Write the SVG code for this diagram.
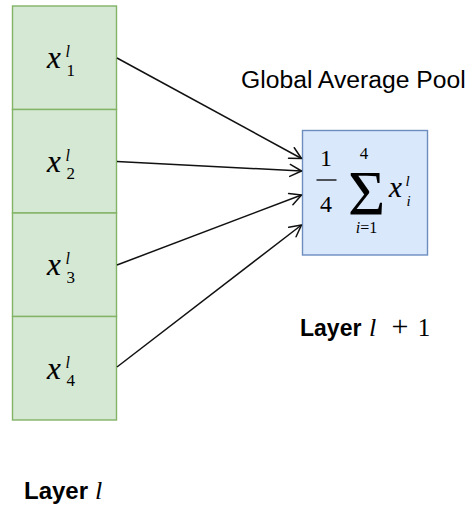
<svg xmlns="http://www.w3.org/2000/svg" width="472" height="513" viewBox="0 0 472 513">
  <style>
    .cell { fill: #d5e8d4; stroke: #82b366; stroke-width: 1.4; }
    .pool { fill: #dae8fc; stroke: #6c8ebf; stroke-width: 1.4; }
    .edge { fill: none; stroke: #111; stroke-width: 1.5; marker-end: url(#open); }
    .mi { font-family: "Liberation Serif", "Times New Roman", serif; font-style: italic; fill: #000; }
    .mn { font-family: "Liberation Serif", "Times New Roman", serif; fill: #000; }
    .var { stroke: #000; stroke-width: 0.2; }
    .lbl { font-family: "Liberation Sans", Arial, sans-serif; fill: #000; }
    .bold { font-weight: bold; }
  </style>
  <defs>
    <marker id="open" viewBox="-14 -8 16 16" refX="0" refY="0" markerWidth="16" markerHeight="16" markerUnits="userSpaceOnUse" orient="auto">
      <path d="M -11.5 -6 L 0 0 L -11.5 6" fill="none" stroke="#111" stroke-width="1.5" stroke-linecap="round" stroke-linejoin="round"/>
    </marker>
  </defs>

  <rect width="472" height="513" fill="#fff"/>

  <!-- layer l: four input cells -->
  <g id="x1">
    <rect class="cell" x="12.5" y="6" width="104" height="103.5"/>
    <text class="mi var" x="47" y="68" font-size="31">x</text>
    <text class="mi" x="65.5" y="57" font-size="16">l</text>
    <text class="mn" x="66.5" y="75.5" font-size="17">1</text>
  </g>
  <g id="x2">
    <rect class="cell" x="12.5" y="109.5" width="104" height="103.5"/>
    <text class="mi var" x="47" y="171.5" font-size="31">x</text>
    <text class="mi" x="65.5" y="160.5" font-size="16">l</text>
    <text class="mn" x="66.5" y="179" font-size="17">2</text>
  </g>
  <g id="x3">
    <rect class="cell" x="12.5" y="213" width="104" height="103.5"/>
    <text class="mi var" x="47" y="275" font-size="31">x</text>
    <text class="mi" x="65.5" y="264" font-size="16">l</text>
    <text class="mn" x="66.5" y="282.5" font-size="17">3</text>
  </g>
  <g id="x4">
    <rect class="cell" x="12.5" y="316.5" width="104" height="103.5"/>
    <text class="mi var" x="47" y="378.5" font-size="31">x</text>
    <text class="mi" x="65.5" y="367.5" font-size="16">l</text>
    <text class="mn" x="66.5" y="386" font-size="17">4</text>
  </g>

  <!-- pooled output -->
  <g id="pool">
    <rect class="pool" x="302.5" y="130.5" width="125" height="124.5"/>
    <text class="mn" x="326" y="166" font-size="24" text-anchor="middle">1</text>
    <line x1="316.5" y1="180" x2="336.5" y2="180" stroke="#000" stroke-width="1.3"/>
    <text class="mn" x="326" y="211.5" font-size="24" text-anchor="middle">4</text>
    <text class="mn" x="366.5" y="215" font-size="64" text-anchor="middle">Σ</text>
    <text class="mn" x="364" y="158.5" font-size="17" text-anchor="middle">4</text>
    <text x="366.5" y="233" font-size="16" text-anchor="middle"><tspan class="mi">i</tspan><tspan class="mn">=1</tspan></text>
    <text class="mi var" x="389" y="197" font-size="29">x</text>
    <text class="mi" x="405.5" y="185.5" font-size="15">l</text>
    <text class="mi" x="406.5" y="206" font-size="15">i</text>
  </g>

  <!-- connectors -->
  <g id="edges">
    <path class="edge" d="M 117 58 L 301.5 158.5"/>
    <path class="edge" d="M 117 161.5 L 301.5 171"/>
    <path class="edge" d="M 117 265 L 301.5 195"/>
    <path class="edge" d="M 117 367 L 301.5 225"/>
  </g>

  <!-- captions -->
  <g id="caption-pool">
    <text class="lbl" x="241" y="88" font-size="24.7">Global Average Pool</text>
  </g>
  <g id="caption-next">
    <text class="lbl bold" x="300" y="336" font-size="23">Layer</text>
    <text class="mi" x="369" y="336" font-size="26">l</text>
    <text class="mn" x="400" y="336" font-size="30" text-anchor="middle">+</text>
    <text class="mn" x="424" y="336" font-size="25" text-anchor="middle">1</text>
  </g>
  <g id="caption-layer">
    <text class="lbl bold" x="24" y="499" font-size="24">Layer</text>
    <text class="mi" x="95" y="499" font-size="26">l</text>
  </g>
</svg>
